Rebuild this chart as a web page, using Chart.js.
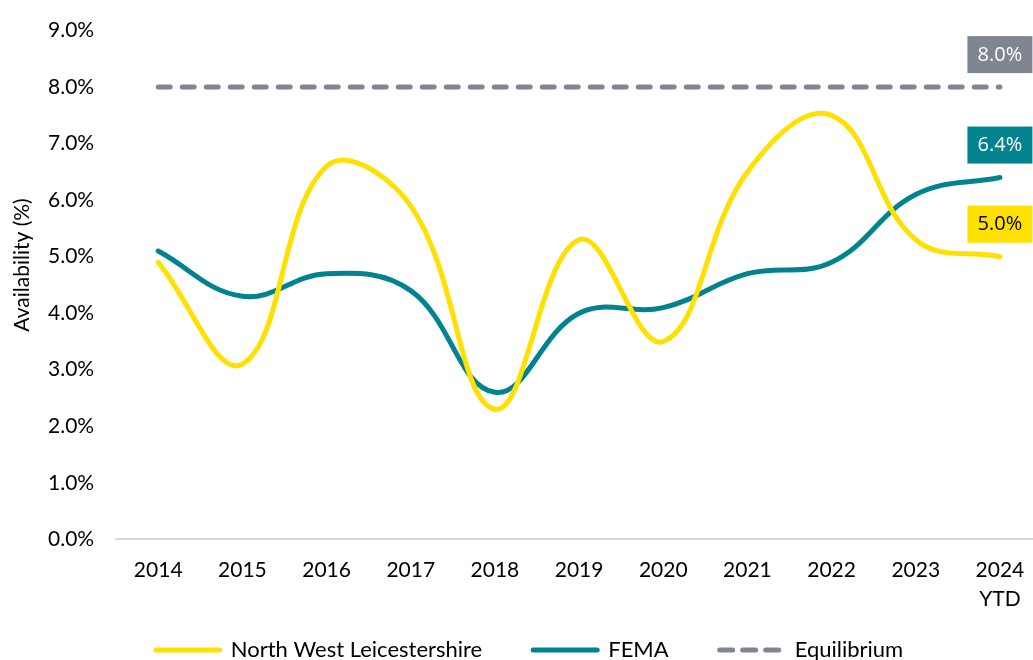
<!DOCTYPE html>
<html>
<head>
<meta charset="utf-8">
<script src="https://cdn.jsdelivr.net/npm/chart.js@4/dist/chart.umd.min.js"></script>
<style>
  html, body { margin: 0; padding: 0; background: #fff; overflow: hidden; }
  #wrap { position: relative; top: -4px; width: 1046px; height: 664px; }
</style>
</head>
<body>
<div id="wrap"><canvas id="availabilityChart"></canvas></div>
<script>
    "use strict";

    var years = ["2014", "2015", "2016", "2017", "2018", "2019", "2020", "2021", "2022", "2023", ["2024", "YTD"]];
    var nwlValues = [4.9, 3.1, 6.6, 5.9, 2.3, 5.3, 3.5, 6.5, 7.5, 5.3, 5.0];
    var femaValues = [5.1, 4.3, 4.7, 4.4, 2.6, 4.0, 4.1, 4.7, 4.9, 6.1, 6.4];
    var equilibriumValues = [8.0, 8.0, 8.0, 8.0, 8.0, 8.0, 8.0, 8.0, 8.0, 8.0, 8.0];
    var seriesNames = ["North West Leicestershire", "FEMA", "Equilibrium"];
    var yAxisTitle = "Availability (%)";

    var yellow = "#FFE000";
    var teal = "#00838F";
    var grey = "#7F8591";
    var labelTextColors = ["#000000", "#FFFFFF", "#FFFFFF"];

    //End-of-line value boxes
    var endLabels = {
        id: "endLabels",
        afterDatasetsDraw: function (chart) {
            var ctx = chart.ctx;
            ctx.save();
            ctx.font = '20px "Open Sans"';
            ctx.textAlign = "center";
            ctx.textBaseline = "middle";
            chart.data.datasets.forEach(function (ds, i) {
                var meta = chart.getDatasetMeta(i);
                var pt = meta.data[meta.data.length - 1];
                var value = ds.data[ds.data.length - 1];
                var cx = pt.x;
                var cy = pt.y - 33;
                ctx.fillStyle = ds.borderColor;
                ctx.fillRect(cx - 32.5, cy - 18, 65, 37);
                ctx.fillStyle = labelTextColors[i];
                ctx.fillText(value.toFixed(1) + "%", cx, cy + 1);
            });
            ctx.restore();
        }
    };

    //Axis title + legend drawn by hand so spacing matches
    var extras = {
        id: "extras",
        afterDraw: function (chart) {
            var ctx = chart.ctx;
            ctx.save();
            ctx.fillStyle = "#000";
            ctx.font = '21px Lato';
            ctx.textAlign = "center";
            ctx.textBaseline = "middle";
            ctx.translate(22, 269);
            ctx.rotate(-Math.PI / 2);
            ctx.fillText(yAxisTitle, 0, 0);
            ctx.restore();

            ctx.save();
            ctx.font = '22px Lato';
            ctx.textBaseline = "middle";
            var lineW = 70, textGap = 8, itemGap = 48;
            var total = 0;
            chart.data.datasets.forEach(function (ds, i) {
                total += lineW + textGap + ctx.measureText(ds.label).width;
                if (i > 0) total += itemGap;
            });
            var x = 528 - total / 2;
            var y = 654;
            chart.data.datasets.forEach(function (ds) {
                ctx.strokeStyle = ds.borderColor;
                ctx.lineWidth = 5;
                ctx.lineCap = "round";
                ctx.setLineDash(ds.borderDash ? [13, 10] : []);
                ctx.beginPath();
                ctx.moveTo(x + 3, y);
                ctx.lineTo(x + lineW - 3, y);
                ctx.stroke();
                ctx.setLineDash([]);
                ctx.fillStyle = "#000";
                ctx.fillText(ds.label, x + lineW + textGap, y);
                x += lineW + textGap + ctx.measureText(ds.label).width + itemGap;
            });
            ctx.restore();
        }
    };

    const ctx = document.getElementById("availabilityChart").getContext("2d");
    var availabilityChart = new Chart(ctx, {
        type: "line",
        data: {
            labels: years,
            datasets: [
                {
                    label: seriesNames[0],
                    data: nwlValues,
                    borderColor: yellow,
                    backgroundColor: yellow,
                    borderWidth: 5,
                    tension: 0.4,
                    pointRadius: 0,
                    borderCapStyle: "round",
                },
                {
                    label: seriesNames[1],
                    data: femaValues,
                    borderColor: teal,
                    backgroundColor: teal,
                    borderWidth: 5,
                    tension: 0.4,
                    pointRadius: 0,
                    borderCapStyle: "round",
                },
                {
                    label: seriesNames[2],
                    data: equilibriumValues,
                    borderColor: grey,
                    backgroundColor: grey,
                    borderWidth: 5,
                    borderDash: [12, 12],
                    borderCapStyle: "round",
                    pointRadius: 0,
                },
            ],
        },
        options: {
            responsive: true,
            maintainAspectRatio: false,
            animation: false,
            layout: {
                padding: { top: 6, right: 4, left: 26, bottom: 30 },
            },
            scales: {
                x: {
                    offset: true,
                    grid: { display: false, drawTicks: false, offset: true },
                    border: { display: true, color: "#D9D9D9", width: 2 },
                    ticks: {
                        color: "#000",
                        font: { family: "Lato", size: 21, lineHeight: 1.35 },
                        padding: 17,
                        maxRotation: 0,
                    },
                },
                y: {
                    min: 0,
                    max: 9,
                    grid: { display: false, drawTicks: false },
                    border: { display: false },
                    ticks: {
                        stepSize: 1,
                        color: "#000",
                        font: { family: "Lato", size: 21 },
                        padding: 22,
                        callback: function (value) {
                            return value.toFixed(1) + "%";
                        },
                    },
                },
            },
            plugins: {
                legend: { display: false },
                tooltip: { enabled: false },
            },
        },
        plugins: [endLabels, extras],
    });
</script>
</body>
</html>
